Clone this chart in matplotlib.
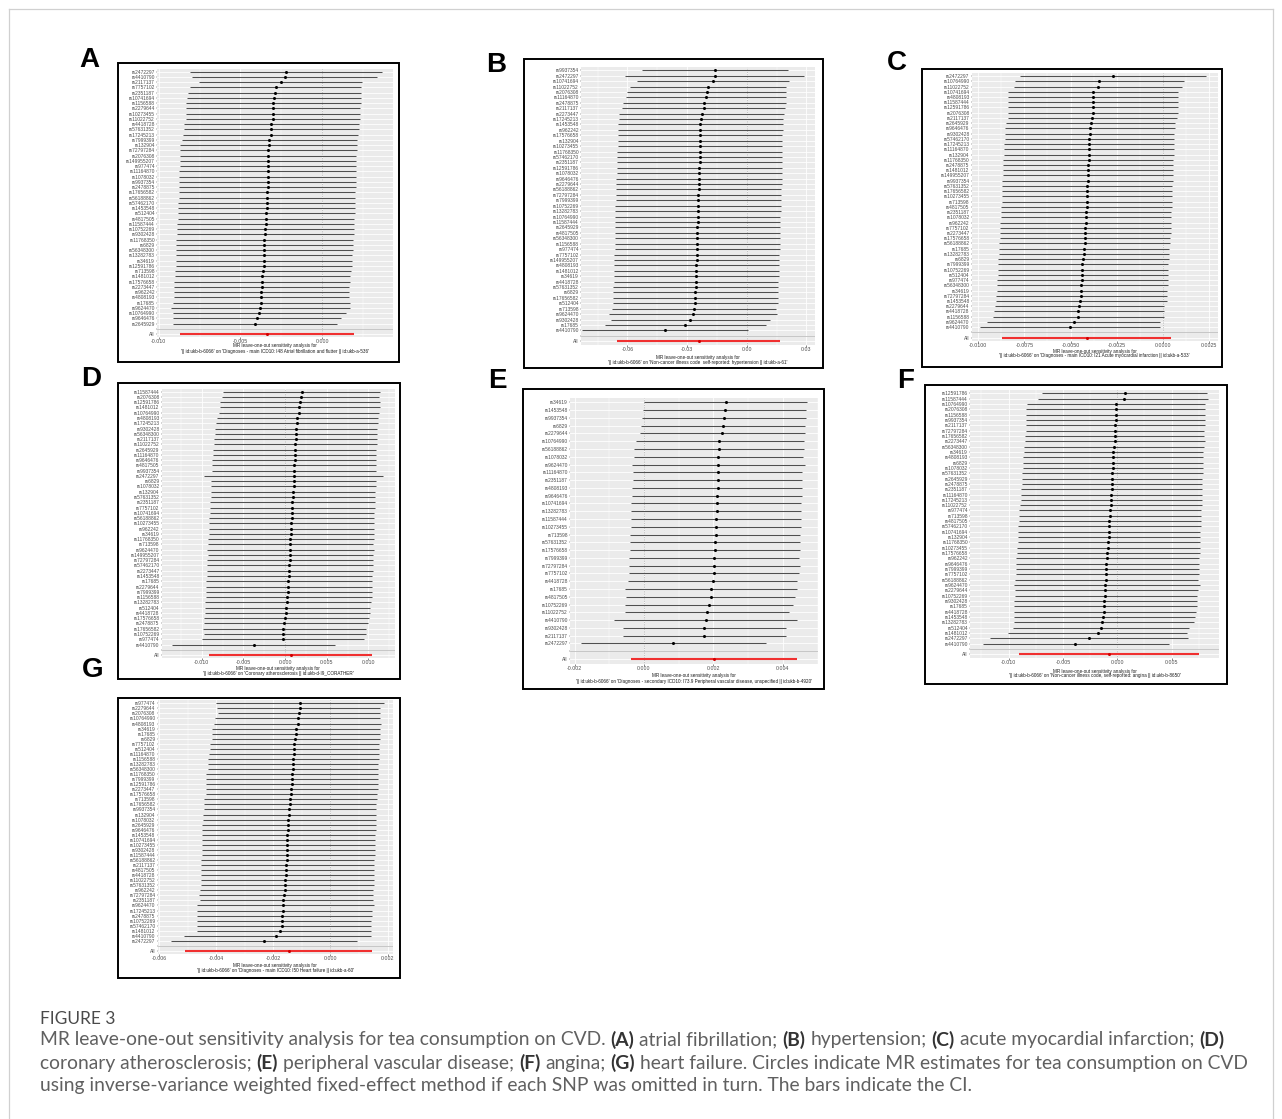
import matplotlib
matplotlib.use("Agg")
import matplotlib.pyplot as plt
from matplotlib.patches import Rectangle
from matplotlib.lines import Line2D
from matplotlib.transforms import Bbox, TransformedBbox

plt.rcParams['font.family'] = ['Liberation Sans', 'DejaVu Sans']

# ============================ DATA ============================
A_snps = ["rs2472297","rs4410790","rs2117137","rs7757102","rs2351187","rs10741694","rs1156588","rs2279644","rs10273455","rs11022752","rs4418728","rs57631352","rs17245213","rs7999399","rs132904","rs72797284","rs2076308","rs149955207","rs977474","rs11164870","rs1078032","rs9937354","rs2478875","rs17656582","rs56188862","rs57462170","rs1453548","rs512404","rs4817505","rs11587444","rs10752269","rs9302428","rs11768350","rs6829","rs56348300","rs13282783","rs34619","rs12591786","rs713598","rs1481012","rs17576658","rs2273447","rs962242","rs4808193","rs17685","rs9624470","rs10764990","rs9646476","rs2645929"]
A_b = [-0.00220,-0.00228,-0.00250,-0.00283,-0.00291,-0.00295,-0.00299,-0.00301,-0.00303,-0.00304,-0.00311,-0.00315,-0.00316,-0.00323,-0.00327,-0.00329,-0.00329,-0.00330,-0.00331,-0.00332,-0.00332,-0.00333,-0.00334,-0.00335,-0.00336,-0.00337,-0.00339,-0.00341,-0.00345,-0.00346,-0.00349,-0.00352,-0.00354,-0.00355,-0.00356,-0.00357,-0.00358,-0.00359,-0.00362,-0.00366,-0.00368,-0.00370,-0.00372,-0.00373,-0.00374,-0.00380,-0.00384,-0.00398,-0.00411]
A_lo = [-0.00807,-0.00797,-0.00752,-0.00809,-0.00819,-0.00829,-0.00831,-0.00833,-0.00833,-0.00833,-0.00848,-0.00848,-0.00850,-0.00858,-0.00868,-0.00870,-0.00870,-0.00872,-0.00872,-0.00874,-0.00874,-0.00876,-0.00876,-0.00878,-0.00878,-0.00880,-0.00880,-0.00882,-0.00884,-0.00888,-0.00890,-0.00890,-0.00892,-0.00892,-0.00894,-0.00894,-0.00896,-0.00896,-0.00900,-0.00902,-0.00904,-0.00906,-0.00906,-0.00909,-0.00915,-0.00925,-0.00915,-0.00913,-0.00911]
A_hi = [0.00368,0.00335,0.00244,0.00236,0.00236,0.00238,0.00236,0.00230,0.00230,0.00230,0.00224,0.00224,0.00220,0.00215,0.00213,0.00213,0.00209,0.00209,0.00209,0.00207,0.00207,0.00205,0.00205,0.00203,0.00203,0.00201,0.00199,0.00197,0.00195,0.00193,0.00191,0.00191,0.00189,0.00187,0.00185,0.00183,0.00181,0.00179,0.00175,0.00169,0.00167,0.00165,0.00165,0.00165,0.00167,0.00169,0.00142,0.00112,0.00091]
A_all = (-0.00336, -0.00868, 0.00193)

B_snps = ["rs9937354","rs2472297","rs10741694","rs11022752","rs2076308","rs11164870","rs2478875","rs2117137","rs2273447","rs17245213","rs1453548","rs962242","rs17576658","rs132904","rs10273455","rs11768350","rs57462170","rs2351187","rs12591786","rs1078032","rs9646476","rs2279644","rs56188862","rs72797284","rs7999399","rs10752269","rs13282783","rs10764990","rs11587444","rs2645929","rs4817505","rs56348300","rs1156588","rs977474","rs7757102","rs149955207","rs4808193","rs1481012","rs34619","rs4418728","rs57631352","rs6829","rs17656582","rs512404","rs713598","rs9624470","rs9302428","rs17685","rs4410790"]
B_b = [-0.0158,-0.0162,-0.0169,-0.0194,-0.0202,-0.0204,-0.0214,-0.0217,-0.0226,-0.0231,-0.0233,-0.0233,-0.0233,-0.0234,-0.0234,-0.0236,-0.0236,-0.0236,-0.0238,-0.0239,-0.0239,-0.0241,-0.0241,-0.0243,-0.0243,-0.0244,-0.0246,-0.0246,-0.0246,-0.0248,-0.0248,-0.0248,-0.0249,-0.0249,-0.0251,-0.0251,-0.0253,-0.0253,-0.0254,-0.0254,-0.0256,-0.0258,-0.0258,-0.0259,-0.0263,-0.0271,-0.0283,-0.0308,-0.0409]
B_lo = [-0.0527,-0.0613,-0.0554,-0.0586,-0.0603,-0.0607,-0.0623,-0.0629,-0.0640,-0.0644,-0.0645,-0.0645,-0.0647,-0.0647,-0.0649,-0.0650,-0.0650,-0.0652,-0.0654,-0.0654,-0.0655,-0.0655,-0.0657,-0.0659,-0.0659,-0.0661,-0.0661,-0.0662,-0.0662,-0.0662,-0.0664,-0.0664,-0.0664,-0.0664,-0.0666,-0.0666,-0.0667,-0.0667,-0.0669,-0.0669,-0.0671,-0.0671,-0.0672,-0.0674,-0.0676,-0.0691,-0.0682,-0.0714,-0.0826]
B_hi = [0.0209,0.0290,0.0211,0.0197,0.0197,0.0197,0.0199,0.0190,0.0185,0.0182,0.0180,0.0180,0.0179,0.0179,0.0179,0.0179,0.0177,0.0177,0.0177,0.0177,0.0175,0.0175,0.0174,0.0172,0.0172,0.0170,0.0170,0.0169,0.0169,0.0167,0.0167,0.0165,0.0165,0.0165,0.0163,0.0162,0.0162,0.0160,0.0160,0.0158,0.0158,0.0157,0.0157,0.0155,0.0148,0.0150,0.0115,0.0098,0.0008]
B_all = (-0.0241, -0.0650, 0.0165)

C_snps = ["rs2472297","rs10764990","rs11022752","rs10741694","rs4808193","rs11587444","rs12591786","rs2076308","rs2117137","rs2645929","rs9646476","rs9302428","rs57462170","rs17245213","rs11164870","rs132904","rs11768350","rs2478875","rs1481012","rs149955207","rs9937354","rs57631352","rs17656582","rs10273455","rs713598","rs4817505","rs2351187","rs1078032","rs962242","rs7757102","rs2273447","rs17576658","rs56188862","rs17685","rs13282783","rs6829","rs7999399","rs10752269","rs512404","rs977474","rs56348300","rs34619","rs72797284","rs1453548","rs2279644","rs4418728","rs1156588","rs9624470","rs4410790"]
C_b = [-0.00270,-0.00346,-0.00350,-0.00377,-0.00377,-0.00379,-0.00379,-0.00380,-0.00382,-0.00391,-0.00395,-0.00397,-0.00398,-0.00398,-0.00400,-0.00400,-0.00402,-0.00404,-0.00406,-0.00406,-0.00407,-0.00409,-0.00409,-0.00411,-0.00411,-0.00413,-0.00416,-0.00416,-0.00418,-0.00420,-0.00420,-0.00422,-0.00422,-0.00425,-0.00427,-0.00431,-0.00436,-0.00436,-0.00440,-0.00440,-0.00442,-0.00442,-0.00443,-0.00447,-0.00452,-0.00460,-0.00461,-0.00483,-0.00503]
C_lo = [-0.00775,-0.00802,-0.00806,-0.00836,-0.00840,-0.00840,-0.00840,-0.00840,-0.00840,-0.00849,-0.00853,-0.00854,-0.00856,-0.00858,-0.00860,-0.00862,-0.00863,-0.00865,-0.00867,-0.00867,-0.00869,-0.00869,-0.00871,-0.00871,-0.00872,-0.00874,-0.00876,-0.00878,-0.00880,-0.00880,-0.00881,-0.00883,-0.00885,-0.00887,-0.00887,-0.00890,-0.00892,-0.00892,-0.00894,-0.00896,-0.00898,-0.00899,-0.00901,-0.00901,-0.00908,-0.00914,-0.00919,-0.00952,-0.00988]
C_hi = [0.00233,0.00112,0.00105,0.00083,0.00081,0.00081,0.00079,0.00079,0.00078,0.00067,0.00063,0.00061,0.00059,0.00059,0.00058,0.00058,0.00056,0.00054,0.00054,0.00054,0.00052,0.00050,0.00050,0.00049,0.00049,0.00047,0.00045,0.00045,0.00043,0.00043,0.00041,0.00040,0.00038,0.00034,0.00032,0.00031,0.00029,0.00027,0.00027,0.00027,0.00025,0.00023,0.00022,0.00020,0.00005,0.00005,0.00004,-0.00018,-0.00018]
C_all = (-0.00413, -0.00869, 0.00045)

D_snps = ["rs11587444","rs2076308","rs12591786","rs1481012","rs10764990","rs4808193","rs17245213","rs9302428","rs56348300","rs2117137","rs11022752","rs2645929","rs11164870","rs9646476","rs4817505","rs9937354","rs2472297","rs6829","rs1078032","rs132904","rs57631352","rs2351187","rs7757102","rs10741694","rs56188862","rs10273455","rs962242","rs34619","rs11768350","rs713598","rs9624470","rs149955207","rs72797284","rs57462170","rs2273447","rs1453548","rs17685","rs2279644","rs7999399","rs1156588","rs13282783","rs512404","rs4418728","rs17576658","rs2478875","rs17656582","rs10752269","rs977474","rs4410790"]
D_b = [0.00200,0.00192,0.00180,0.00172,0.00164,0.00148,0.00144,0.00136,0.00132,0.00128,0.00124,0.00120,0.00116,0.00116,0.00112,0.00112,0.00108,0.00104,0.00104,0.00096,0.00092,0.00088,0.00084,0.00080,0.00080,0.00076,0.00072,0.00072,0.00064,0.00064,0.00060,0.00056,0.00056,0.00052,0.00048,0.00044,0.00040,0.00036,0.00032,0.00028,0.00024,0.00016,0.00012,0.00004,-0.00016,-0.00020,-0.00020,-0.00024,-0.00368]
D_lo = [-0.00748,-0.00760,-0.00776,-0.00784,-0.00788,-0.00820,-0.00828,-0.00840,-0.00844,-0.00852,-0.00856,-0.00864,-0.00868,-0.00872,-0.00876,-0.00880,-0.00976,-0.00884,-0.00884,-0.00888,-0.00892,-0.00896,-0.00900,-0.00904,-0.00908,-0.00908,-0.00912,-0.00916,-0.00920,-0.00924,-0.00936,-0.00928,-0.00932,-0.00936,-0.00940,-0.00940,-0.00944,-0.00948,-0.00948,-0.00952,-0.00956,-0.00960,-0.00960,-0.00968,-0.00968,-0.00980,-0.00976,-0.00992,-0.01352]
D_hi = [0.01140,0.01132,0.01140,0.01140,0.01132,0.01120,0.01112,0.01108,0.01104,0.01104,0.01100,0.01096,0.01096,0.01096,0.01092,0.01092,0.01180,0.01092,0.01088,0.01084,0.01080,0.01076,0.01076,0.01072,0.01072,0.01068,0.01068,0.01064,0.01064,0.01060,0.01072,0.01056,0.01056,0.01052,0.01052,0.01048,0.01048,0.01044,0.01044,0.01040,0.01028,0.01024,0.01020,0.01008,0.00992,0.00976,0.00968,0.00952,0.00600]
D_all = (0.00068, -0.00912, 0.01044)

E_snps = ["rs34619","rs1453548","rs9937354","rs6829","rs2279644","rs10764990","rs56188862","rs1078032","rs9624470","rs11164870","rs2351187","rs4808193","rs9646476","rs10741694","rs13282783","rs11587444","rs10273455","rs713598","rs57631352","rs17576658","rs7999399","rs72797284","rs7757102","rs4418728","rs17685","rs4817505","rs10752269","rs11022752","rs4410790","rs9302428","rs2117137","rs2472297"]
E_b = [0.00236,0.00233,0.00230,0.00227,0.00226,0.00217,0.00216,0.00214,0.00213,0.00213,0.00212,0.00212,0.00211,0.00209,0.00209,0.00207,0.00207,0.00206,0.00205,0.00204,0.00203,0.00203,0.00202,0.00198,0.00194,0.00192,0.00188,0.00181,0.00178,0.00174,0.00173,0.00085]
E_lo = [0.00000,-0.00002,-0.00005,-0.00009,-0.00010,-0.00023,-0.00028,-0.00028,-0.00034,-0.00031,-0.00032,-0.00034,-0.00035,-0.00038,-0.00038,-0.00038,-0.00038,-0.00040,-0.00040,-0.00041,-0.00042,-0.00044,-0.00044,-0.00045,-0.00054,-0.00052,-0.00054,-0.00055,-0.00086,-0.00059,-0.00061,-0.00182]
E_hi = [0.00469,0.00467,0.00466,0.00464,0.00463,0.00462,0.00462,0.00457,0.00465,0.00456,0.00456,0.00456,0.00455,0.00453,0.00453,0.00453,0.00452,0.00450,0.00449,0.00448,0.00447,0.00448,0.00445,0.00441,0.00440,0.00436,0.00429,0.00417,0.00442,0.00408,0.00408,0.00351]
E_all = (0.00202, -0.00037, 0.00442)

F_snps = ["rs12591786","rs11587444","rs10764990","rs2076308","rs1156588","rs9937354","rs2117137","rs72797284","rs17656582","rs2273447","rs56348300","rs34619","rs4808193","rs6829","rs1078032","rs57631352","rs2645929","rs2478875","rs2351187","rs11164870","rs17245213","rs11022752","rs977474","rs713598","rs4817505","rs57462170","rs10741694","rs132904","rs11768350","rs10273455","rs17576658","rs962242","rs9646476","rs7999399","rs7757102","rs56188862","rs9624470","rs2279644","rs10752269","rs9302428","rs17685","rs4418728","rs1453548","rs13282783","rs512404","rs1481012","rs2472297","rs4410790"]
F_b = [0.00070,0.00058,-0.00015,-0.00015,-0.00015,-0.00016,-0.00018,-0.00018,-0.00019,-0.00019,-0.00030,-0.00036,-0.00042,-0.00042,-0.00043,-0.00046,-0.00049,-0.00049,-0.00052,-0.00055,-0.00055,-0.00058,-0.00064,-0.00067,-0.00073,-0.00076,-0.00079,-0.00079,-0.00082,-0.00085,-0.00091,-0.00097,-0.00100,-0.00100,-0.00103,-0.00106,-0.00109,-0.00112,-0.00115,-0.00118,-0.00121,-0.00124,-0.00128,-0.00137,-0.00152,-0.00182,-0.00258,-0.00386]
F_lo = [-0.00689,-0.00729,-0.00835,-0.00838,-0.00838,-0.00841,-0.00844,-0.00844,-0.00847,-0.00850,-0.00856,-0.00862,-0.00865,-0.00868,-0.00871,-0.00874,-0.00877,-0.00880,-0.00883,-0.00887,-0.00890,-0.00893,-0.00902,-0.00905,-0.00908,-0.00911,-0.00914,-0.00917,-0.00917,-0.00920,-0.00926,-0.00929,-0.00932,-0.00932,-0.00935,-0.00938,-0.00947,-0.00941,-0.00944,-0.00947,-0.00950,-0.00950,-0.00953,-0.00953,-0.00959,-0.01002,-0.01172,-0.01239]
F_hi = [0.00829,0.00835,0.00805,0.00805,0.00805,0.00805,0.00805,0.00801,0.00801,0.00805,0.00798,0.00792,0.00789,0.00789,0.00786,0.00786,0.00783,0.00783,0.00783,0.00780,0.00780,0.00780,0.00774,0.00774,0.00771,0.00768,0.00765,0.00765,0.00762,0.00759,0.00756,0.00753,0.00750,0.00747,0.00747,0.00744,0.00756,0.00738,0.00735,0.00732,0.00729,0.00720,0.00716,0.00707,0.00662,0.00638,0.00647,0.00474]
F_all = (-0.00076, -0.00902, 0.00747)

G_snps = ["rs977474","rs2279644","rs2076308","rs10764990","rs4808193","rs34619","rs17685","rs6829","rs7757102","rs512404","rs11164870","rs1156588","rs13282783","rs56348300","rs11768350","rs7999399","rs12591786","rs2273447","rs17576658","rs713598","rs17656582","rs9937354","rs132904","rs1078032","rs2645929","rs9646476","rs1453548","rs10741694","rs10273455","rs9302428","rs11587444","rs56188862","rs2117137","rs4817505","rs4418728","rs11022752","rs57631352","rs962242","rs72797284","rs2351187","rs9624470","rs17245213","rs2478875","rs10752269","rs57462170","rs1481012","rs4410790","rs2472297"]
G_b = [-0.00106,-0.00108,-0.00110,-0.00112,-0.00114,-0.00122,-0.00122,-0.00123,-0.00126,-0.00128,-0.00129,-0.00130,-0.00131,-0.00132,-0.00133,-0.00134,-0.00136,-0.00137,-0.00139,-0.00140,-0.00143,-0.00145,-0.00146,-0.00148,-0.00150,-0.00150,-0.00151,-0.00151,-0.00151,-0.00152,-0.00152,-0.00153,-0.00154,-0.00155,-0.00157,-0.00158,-0.00159,-0.00160,-0.00162,-0.00165,-0.00166,-0.00167,-0.00168,-0.00169,-0.00170,-0.00175,-0.00191,-0.00232]
G_lo = [-0.00401,-0.00398,-0.00395,-0.00403,-0.00409,-0.00413,-0.00416,-0.00416,-0.00422,-0.00422,-0.00425,-0.00428,-0.00430,-0.00430,-0.00434,-0.00434,-0.00436,-0.00437,-0.00437,-0.00441,-0.00443,-0.00443,-0.00445,-0.00446,-0.00448,-0.00448,-0.00449,-0.00450,-0.00450,-0.00450,-0.00451,-0.00452,-0.00452,-0.00452,-0.00453,-0.00453,-0.00454,-0.00456,-0.00459,-0.00457,-0.00467,-0.00466,-0.00467,-0.00467,-0.00467,-0.00467,-0.00511,-0.00558]
G_hi = [0.00187,0.00175,0.00175,0.00175,0.00176,0.00173,0.00174,0.00172,0.00170,0.00170,0.00169,0.00169,0.00168,0.00167,0.00167,0.00166,0.00166,0.00165,0.00163,0.00162,0.00161,0.00160,0.00159,0.00159,0.00158,0.00158,0.00157,0.00157,0.00155,0.00155,0.00155,0.00154,0.00154,0.00153,0.00153,0.00152,0.00151,0.00150,0.00150,0.00150,0.00151,0.00145,0.00144,0.00143,0.00143,0.00141,0.00141,0.00092]
G_all = (-0.00146, -0.00509, 0.00146)

EXPOSURE = "'|| id:ukb-b-6066'"
A_outcome = "'Diagnoses - main ICD10: I48 Atrial fibrillation and flutter || id:ukb-a-536'"
B_outcome = "'Non-cancer illness code  self-reported: hypertension || id:ukb-a-61'"
C_outcome = "'Diagnoses - main ICD10: I21 Acute myocardial infarction || id:ukb-a-533'"
D_outcome = "'Coronary atherosclerosis || id:ukb-d-I9_CORATHER'"
E_outcome = "'Diagnoses - secondary ICD10: I73.9 Peripheral vascular disease, unspecified || id:ukb-b-4920'"
F_outcome = "'Non-cancer illness code, self-reported: angina || id:ukb-b-8650'"
G_outcome = "'Diagnoses - main ICD10: I50 Heart failure || id:ukb-a-60'"

A_ticks = [-0.010, -0.005, 0.000]; A_ticklabels = ["-0.010", "-0.005", "0.000"]
B_ticks = [-0.06, -0.03, 0.00, 0.03]; B_ticklabels = ["-0.06", "-0.03", "0.00", "0.03"]
C_ticks = [-0.0100, -0.0075, -0.0050, -0.0025, 0.0000, 0.0025]; C_ticklabels = ["-0.0100", "-0.0075", "-0.0050", "-0.0025", "0.0000", "0.0025"]
D_ticks = [-0.010, -0.005, 0.000, 0.005, 0.010]; D_ticklabels = ["-0.010", "-0.005", "0.000", "0.005", "0.010"]
E_ticks = [-0.002, 0.000, 0.002, 0.004]; E_ticklabels = ["-0.002", "0.000", "0.002", "0.004"]
F_ticks = [-0.010, -0.005, 0.000, 0.005]; F_ticklabels = ["-0.010", "-0.005", "0.000", "0.005"]
G_ticks = [-0.006, -0.004, -0.002, 0.000, 0.002]; G_ticklabels = ["-0.006", "-0.004", "-0.002", "0.000", "0.002"]

# ============================ LAYOUT ============================
W, H = 1282, 1119
fig = plt.figure(figsize=(W / 100, H / 100), dpi=100)
fig.patch.set_facecolor("white")

def fxy(x, y):
    return x / W, 1 - y / H

panels = [
    dict(letter="A", lpos=(89, 57), snps=A_snps, b=A_b, lo=A_lo, hi=A_hi, all=A_all, outcome=A_outcome,
         ticks=A_ticks, tl=A_ticklabels, minor=[-0.0075, -0.0025, 0.0025],
         box=(157, 68.5, 393.3, 337.2), frame=(118, 63, 399, 362), xlim=(-0.0101, 0.00434), xl=(346, 351)),
    dict(letter="B", lpos=(496, 62), snps=B_snps, b=B_b, lo=B_lo, hi=B_hi, all=B_all, outcome=B_outcome,
         ticks=B_ticks, tl=B_ticklabels, minor=[-0.075, -0.045, -0.015, 0.015],
         box=(581, 67, 815, 344.5), frame=(524, 59, 823, 368), xlim=(-0.0833, 0.0343), xl=(357, 362.3)),
    dict(letter="C", lpos=(897, 60), snps=C_snps, b=C_b, lo=C_lo, hi=C_hi, all=C_all, outcome=C_outcome,
         ticks=C_ticks, tl=C_ticklabels, minor=[-0.00875, -0.00625, -0.00375, -0.00125, 0.00125],
         box=(971.7, 72.9, 1217.7, 340.8), frame=(922, 69, 1222, 367), xlim=(-0.01035, 0.00296), xl=(351, 355.8)),
    dict(letter="D", lpos=(91, 376), snps=D_snps, b=D_b, lo=D_lo, hi=D_hi, all=D_all, outcome=D_outcome,
         ticks=D_ticks, tl=D_ticklabels, minor=[-0.0125, -0.0075, -0.0025, 0.0025, 0.0075, 0.0125],
         box=(161.7, 388.5, 395, 658.2), frame=(118, 383, 400, 679), xlim=(-0.0148, 0.0132), xl=(668.7, 673.4)),
    dict(letter="E", lpos=(497, 378), snps=E_snps, b=E_b, lo=E_lo, hi=E_hi, all=E_all, outcome=E_outcome,
         ticks=E_ticks, tl=E_ticklabels, minor=[-0.001, 0.001, 0.003, 0.005],
         box=(570, 397.6, 818.3, 663.7), frame=(523, 389, 824, 689), xlim=(-0.00213, 0.00502), xl=(675.7, 681)),
    dict(letter="F", lpos=(906, 378), snps=F_snps, b=F_b, lo=F_lo, hi=F_hi, all=F_all, outcome=F_outcome,
         ticks=F_ticks, tl=F_ticklabels, minor=[-0.0125, -0.0075, -0.0025, 0.0025, 0.0075],
         box=(970, 390.1, 1219.3, 657.5), frame=(925, 385, 1227, 684), xlim=(-0.01355, 0.00938), xl=(671, 676)),
    dict(letter="G", lpos=(93, 667), snps=G_snps, b=G_b, lo=G_lo, hi=G_hi, all=G_all, outcome=G_outcome,
         ticks=G_ticks, tl=G_ticklabels, minor=[-0.005, -0.003, -0.001, 0.001],
         box=(157.5, 700.3, 393.3, 954), frame=(118, 698, 400, 978), xlim=(-0.00605, 0.0022), xl=(965, 970.3)),
]

TXT = "#4D4D4D"

for p in panels:
    L, T, R, B = p["box"]
    ax = fig.add_axes([L / W, 1 - B / H, (R - L) / W, (B - T) / H])
    ax.set_facecolor("#EBEBEB")
    for s in ax.spines.values():
        s.set_visible(False)
    n = len(p["snps"])
    ys = [n + 2 - k for k in range(n)]
    ax.set_xlim(*p["xlim"])
    ax.set_ylim(0.4, n + 2.6)
    ax.set_xticks(p["ticks"])
    ax.set_xticklabels(p["tl"])
    ax.set_xticks(p["minor"], minor=True)
    ax.set_yticks([1, 2] + ys)
    ax.set_yticklabels(["All", ""] + p["snps"])
    ax.grid(True, which="major", color="white", lw=0.6)
    ax.grid(True, which="minor", axis="x", color="white", lw=0.3)
    ax.set_axisbelow(True)
    ax.tick_params(axis="x", which="major", length=1.2, width=0.5, color="#555555",
                   labelsize=3.8, labelcolor=TXT, pad=0.4)
    ax.tick_params(axis="x", which="minor", length=0)
    ax.tick_params(axis="y", length=1.0, width=0.3, color="#333333",
                   labelsize=3.5, labelcolor=TXT, pad=0.6)
    ax.axvline(0, color="#8a8a8a", lw=0.5, ls=(0, (1, 1.5)), zorder=1.5)
    ax.hlines(ys, p["lo"], p["hi"], color="#505050", lw=0.75, zorder=2)
    ax.plot(p["b"], ys, "o", color="black", ms=2.2, mew=0, zorder=3)
    ab, alo, ahi = p["all"]
    ax.hlines([1], [alo], [ahi], color="#F03030", lw=1.5, zorder=2)
    ax.plot([ab], [1], "o", color="#D00000", ms=2.2, mew=0, zorder=3)
    ax.axhline(2, color="#BEBEBE", lw=0.6, zorder=3.5)

    # x-axis title (two lines)
    cx = (L + R) / 2
    fL, fT, fR, fB = p["frame"]
    clip = TransformedBbox(Bbox.from_extents(fL / W, 1 - fB / H, fR / W, 1 - fT / H), fig.transFigure)
    for txt, yy in (("MR leave-one-out sensitivity analysis for", p["xl"][0]),
                    (EXPOSURE + " on " + p["outcome"], p["xl"][1])):
        t = fig.text(*fxy(cx, yy), txt, ha="center", va="center", fontsize=3.3, color="#1a1a1a")
        t.set_clip_box(clip)
        t.set_clip_on(True)

    # panel frame
    fig.add_artist(Rectangle(fxy(fL, fB), (fR - fL) / W, (fB - fT) / H, transform=fig.transFigure,
                             fill=False, ec="black", lw=1.4, zorder=10))
    # panel letter
    lx, ly = p["lpos"]
    fig.text(*fxy(lx, ly + 10), p["letter"], ha="center", va="baseline", fontsize=20,
             fontweight="bold", color="black")

# outer border of the figure box
for (x0, y0, x1, y1) in [(9, 9, 1273, 9), (9, 9, 9, H), (1273, 9, 1273, H)]:
    fig.add_artist(Line2D([x0 / W, x1 / W], [1 - y0 / H, 1 - y1 / H], transform=fig.transFigure,
                          color="#D0D0D0", lw=0.9))

# ============================ CAPTION ============================
renderer = fig.canvas.get_renderer()
CAP_FONT = ["Lato", "DejaVu Sans"]
REG = "normal"

def text_width(s, size, weight):
    t = fig.text(0, 0, s, fontsize=size, fontweight=weight, family=CAP_FONT)
    w = t.get_window_extent(renderer).width
    t.remove()
    return w

cap_lines = [
    [("MR leave-one-out sensitivity analysis for tea consumption on CVD.", False), ("(A)", True),
     ("atrial fibrillation;", False), ("(B)", True), ("hypertension;", False), ("(C)", True),
     ("acute myocardial infarction;", False), ("(D)", True)],
    [("coronary atherosclerosis;", False), ("(E)", True), ("peripheral vascular disease;", False),
     ("(F)", True), ("angina;", False), ("(G)", True),
     ("heart failure. Circles indicate MR estimates for tea consumption on CVD", False)],
    [("using inverse-variance weighted fixed-effect method if each SNP was omitted in turn. The bars indicate the CI.", False)],
]

def line_width(segs, size):
    sp = text_width("a a", size, REG) - text_width("aa", size, REG)
    w = sum(text_width(s, size, "bold" if bd else REG) for s, bd in segs)
    return w + sp * (len(segs) - 1), sp

base = 12.0
w0, _ = line_width(cap_lines[0], base)
cap_size = base * 1180.0 / w0

fig.text(*fxy(40, 1023.5), "FIGURE 3", fontsize=12.5, color="#4a4a4a", family=CAP_FONT,
         ha="left", va="baseline")

for i, segs in enumerate(cap_lines):
    _, sp = line_width(segs, cap_size)
    x = 40.0
    yb = 1045.5 + 23 * i
    for s, bd in segs:
        t = fig.text(*fxy(x, yb), s, fontsize=cap_size, fontweight="bold" if bd else REG,
                     color="#333333" if bd else "#606060", family=CAP_FONT, ha="left", va="baseline")
        x += t.get_window_extent(renderer).width + sp

fig.savefig("out.png", dpi=100, facecolor="white")
